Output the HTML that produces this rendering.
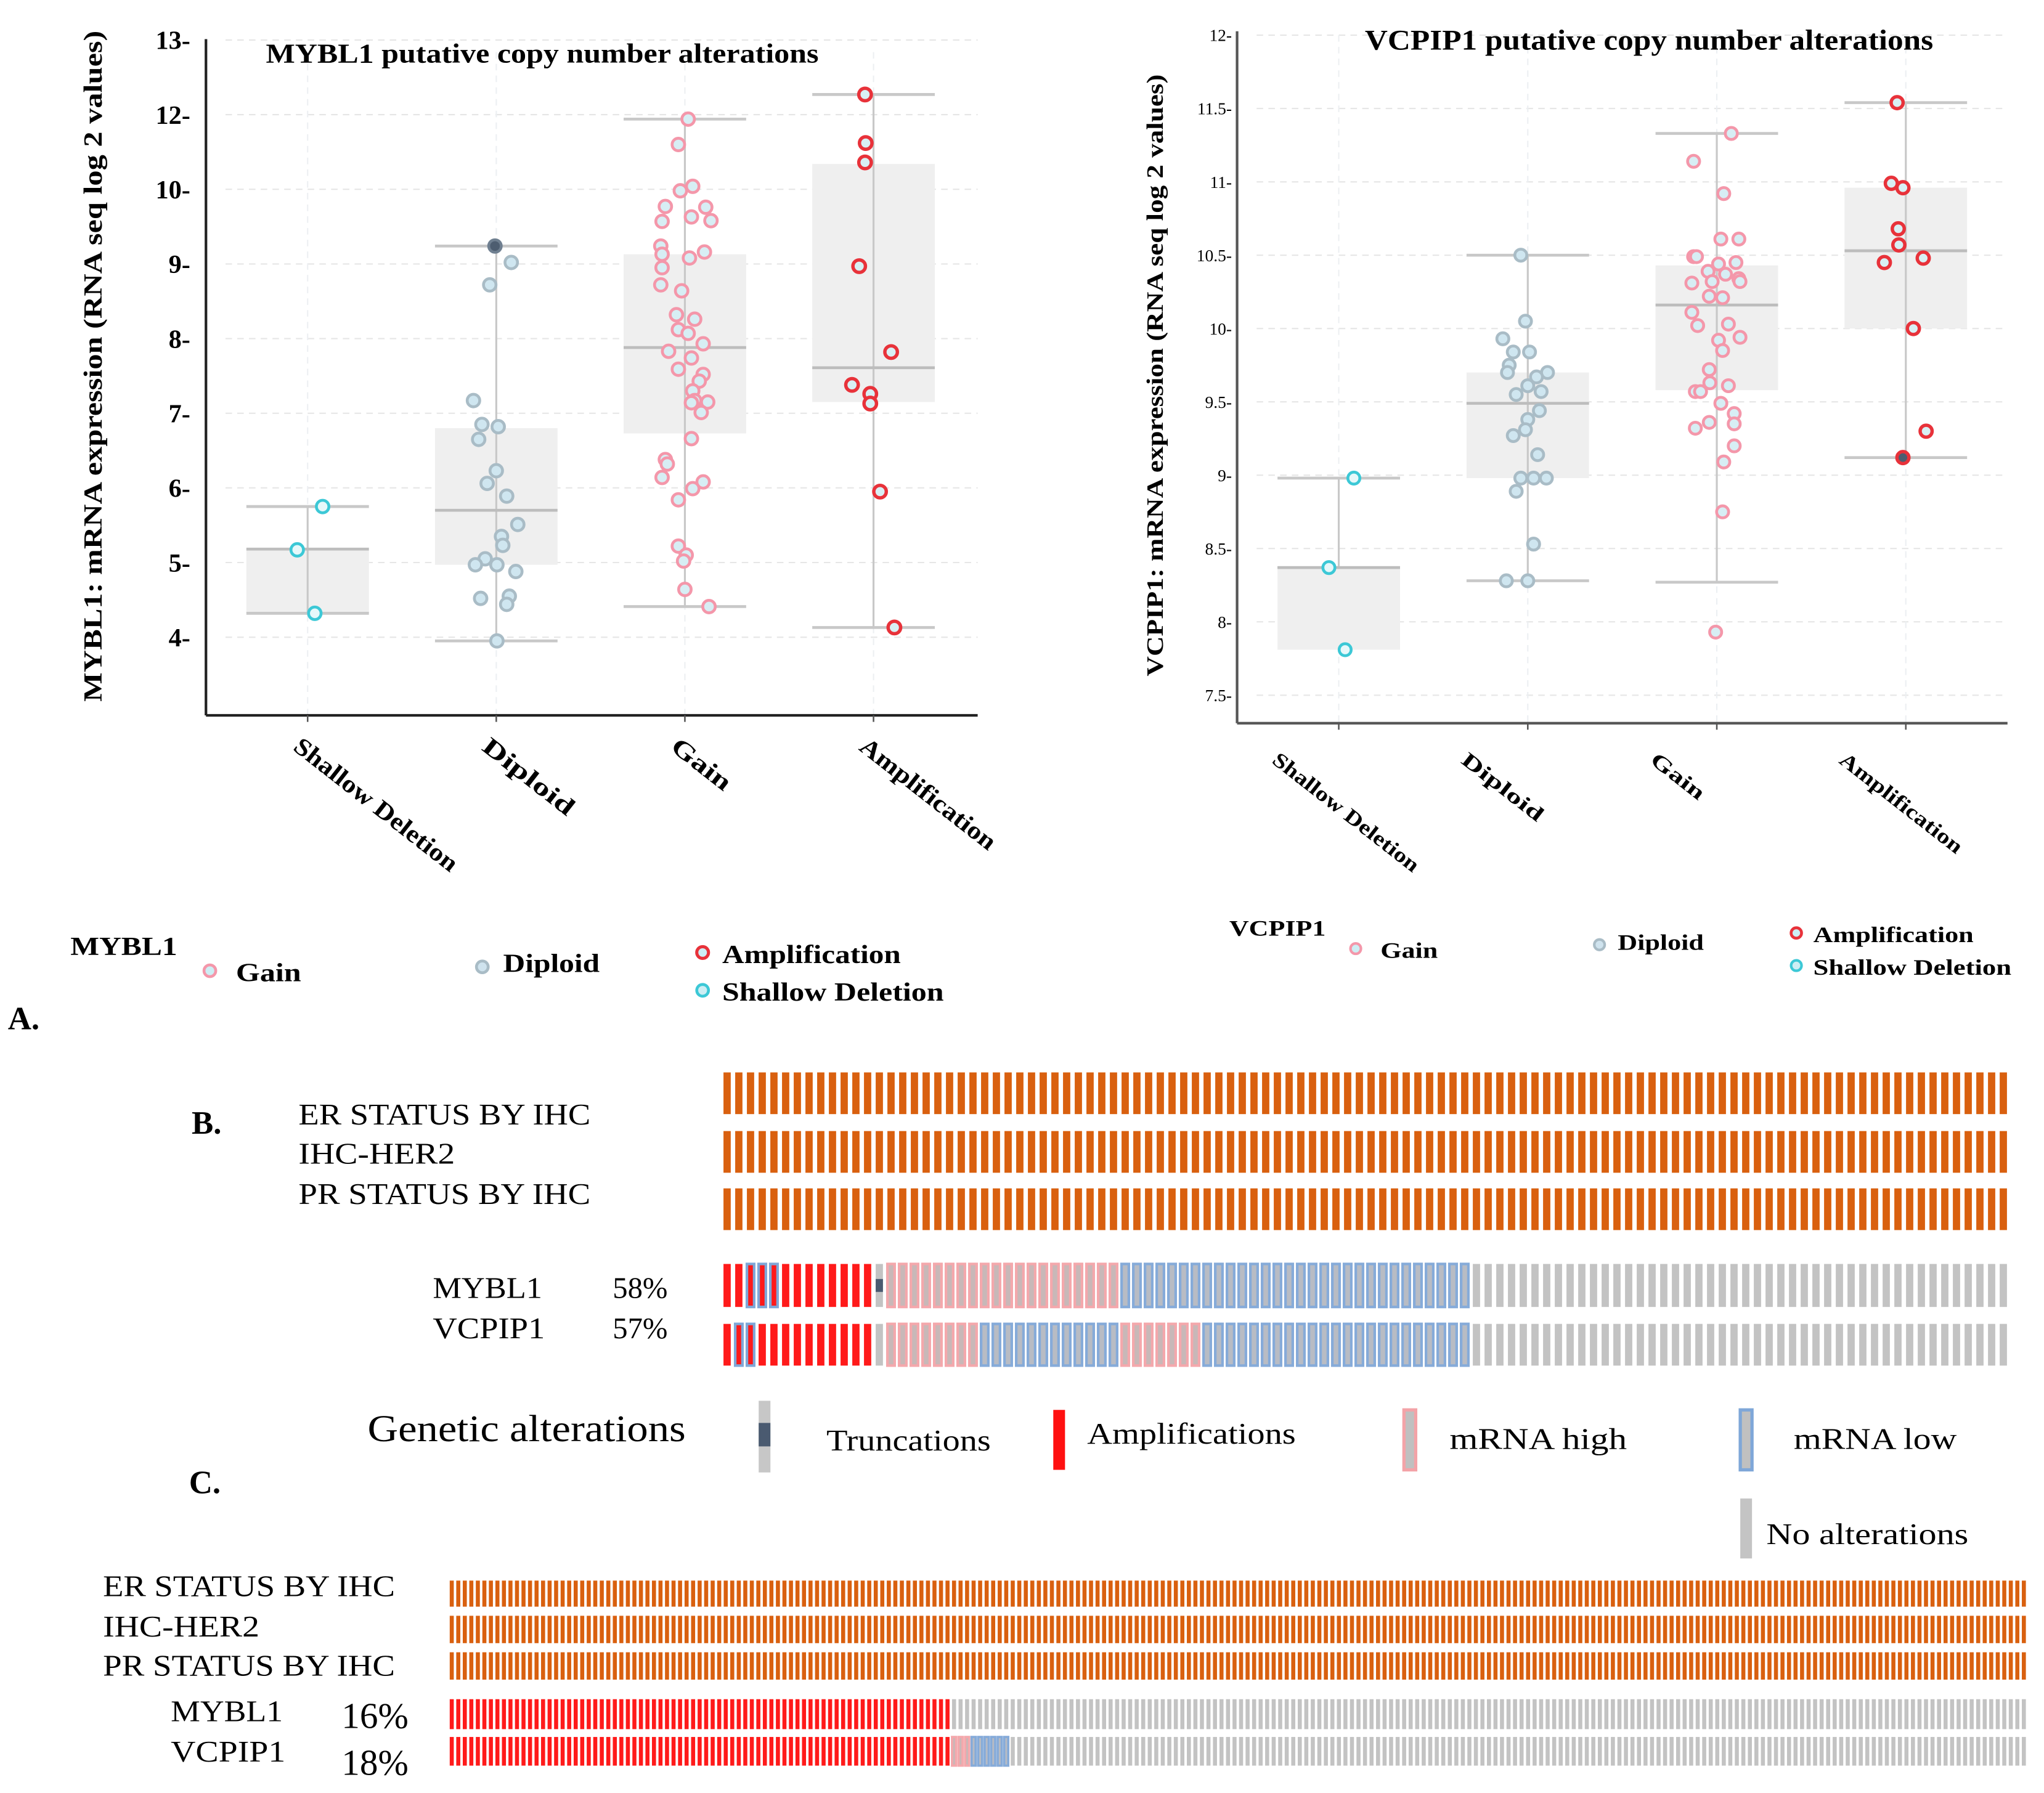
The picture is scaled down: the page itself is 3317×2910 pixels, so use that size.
<!DOCTYPE html>
<html><head><meta charset="utf-8">
<style>
html,body{margin:0;padding:0;background:#fff;}
svg{display:block;}
text{font-family:"Liberation Serif",serif;}
</style></head>
<body>
<svg id="root" width="3317" height="2910" viewBox="0 0 1568 1376" preserveAspectRatio="none" xmlns="http://www.w3.org/2000/svg">
<rect x="0" y="0" width="1568" height="1376" fill="#fff"/>
<g id="chartA1"></g>
<g id="chartA2"></g>
<g id="panelB"></g>
<g id="panelC"></g>
<g font-weight="bold">
  <text x="6" y="790" font-size="25">A.</text>
  <text x="204" y="48" font-size="21" textLength="424" lengthAdjust="spacingAndGlyphs">MYBL1 putative copy number alterations</text>
  <text x="1047" y="38" font-size="22" textLength="436" lengthAdjust="spacingAndGlyphs">VCPIP1 putative copy number alterations</text>
  <text transform="translate(78,281) rotate(-90)" text-anchor="middle" font-size="20" textLength="515" lengthAdjust="spacingAndGlyphs">MYBL1: mRNA expression  (RNA seq log 2 values)</text>
  <text transform="translate(892,288) rotate(-90)" text-anchor="middle" font-size="18" textLength="462" lengthAdjust="spacingAndGlyphs">VCPIP1: mRNA expression  (RNA seq log 2 values)</text>
</g>
<g font-weight="bold">
  <text x="54" y="733" font-size="20" textLength="82" lengthAdjust="spacingAndGlyphs">MYBL1</text>
  <circle cx="161" cy="745" r="4.5" fill="#cdeef4" stroke="#f497aa" stroke-width="2.2"/>
  <text x="181" y="753" font-size="20" textLength="50" lengthAdjust="spacingAndGlyphs">Gain</text>
  <circle cx="370" cy="742" r="4.5" fill="#cfe3ee" stroke="#a9bcc6" stroke-width="2.2"/>
  <text x="386" y="746" font-size="20" textLength="74" lengthAdjust="spacingAndGlyphs">Diploid</text>
  <circle cx="539" cy="731" r="4.5" fill="#cdeef4" stroke="#e8323a" stroke-width="2.4"/>
  <text x="554" y="739" font-size="20" textLength="137" lengthAdjust="spacingAndGlyphs">Amplification</text>
  <circle cx="539" cy="760" r="4.5" fill="#cdeef4" stroke="#3cc8d6" stroke-width="2.2"/>
  <text x="554" y="768" font-size="20" textLength="170" lengthAdjust="spacingAndGlyphs">Shallow Deletion</text>

  <text x="943" y="718" font-size="17" textLength="74" lengthAdjust="spacingAndGlyphs">VCPIP1</text>
  <circle cx="1040" cy="728" r="4" fill="#cdeef4" stroke="#f497aa" stroke-width="2"/>
  <text x="1059" y="735" font-size="17" textLength="44" lengthAdjust="spacingAndGlyphs">Gain</text>
  <circle cx="1227" cy="725" r="4" fill="#cfe3ee" stroke="#a9bcc6" stroke-width="2"/>
  <text x="1241" y="729" font-size="17" textLength="66" lengthAdjust="spacingAndGlyphs">Diploid</text>
  <circle cx="1378" cy="716" r="4" fill="#cdeef4" stroke="#e8323a" stroke-width="2.2"/>
  <text x="1391" y="723" font-size="17" textLength="123" lengthAdjust="spacingAndGlyphs">Amplification</text>
  <circle cx="1378" cy="741" r="4" fill="#cdeef4" stroke="#3cc8d6" stroke-width="2"/>
  <text x="1391" y="748" font-size="17" textLength="152" lengthAdjust="spacingAndGlyphs">Shallow Deletion</text>
</g>
<g font-size="23">
  <text x="147" y="870" font-size="25" font-weight="bold">B.</text>
  <text x="229" y="863" textLength="224" lengthAdjust="spacingAndGlyphs">ER STATUS BY IHC</text>
  <text x="229" y="893" textLength="120" lengthAdjust="spacingAndGlyphs">IHC-HER2</text>
  <text x="229" y="924" textLength="224" lengthAdjust="spacingAndGlyphs">PR STATUS BY IHC</text>
  <text x="332" y="996" textLength="84" lengthAdjust="spacingAndGlyphs">MYBL1</text>
  <text x="470" y="996">58%</text>
  <text x="332" y="1027" textLength="86" lengthAdjust="spacingAndGlyphs">VCPIP1</text>
  <text x="470" y="1027">57%</text>
  <text x="282" y="1106" font-size="29" textLength="244" lengthAdjust="spacingAndGlyphs">Genetic alterations</text>
  <rect x="582" y="1075" width="9" height="55" fill="#c7c7c7"/>
  <rect x="582" y="1092" width="9" height="18" fill="#4a5a70"/>
  <text x="634" y="1113" textLength="126" lengthAdjust="spacingAndGlyphs">Truncations</text>
  <rect x="808" y="1082" width="9" height="46" fill="#ff1010"/>
  <text x="834" y="1108" textLength="160" lengthAdjust="spacingAndGlyphs">Amplifications</text>
  <rect x="1077" y="1082" width="9" height="46" fill="#c0c0c0" stroke="#f3a3a8" stroke-width="2.5"/>
  <text x="1112" y="1112" textLength="136" lengthAdjust="spacingAndGlyphs">mRNA high</text>
  <rect x="1335" y="1082" width="9" height="46" fill="#c0c0c0" stroke="#7fa7d8" stroke-width="2.5"/>
  <text x="1376" y="1112" textLength="125" lengthAdjust="spacingAndGlyphs">mRNA low</text>
  <rect x="1335" y="1150" width="9" height="46" fill="#c4c4c4"/>
  <text x="1355" y="1185" textLength="155" lengthAdjust="spacingAndGlyphs">No alterations</text>
  <text x="145" y="1146" font-size="25" font-weight="bold">C.</text>
</g>
<g font-size="23">
  <text x="79" y="1225" textLength="224" lengthAdjust="spacingAndGlyphs">ER STATUS BY IHC</text>
  <text x="79" y="1256" textLength="120" lengthAdjust="spacingAndGlyphs">IHC-HER2</text>
  <text x="79" y="1286" textLength="224" lengthAdjust="spacingAndGlyphs">PR STATUS BY IHC</text>
  <text x="131" y="1321" textLength="86" lengthAdjust="spacingAndGlyphs">MYBL1</text>
  <text x="262" y="1326" font-size="28">16%</text>
  <text x="131" y="1352" textLength="88" lengthAdjust="spacingAndGlyphs">VCPIP1</text>
  <text x="262" y="1362" font-size="28">18%</text>
</g>
</svg>
<script>
// ---------- Chart A1 data (MYBL1), y in axis units (tick positions 4..12, labels as printed) ----------
const a1Categories = ['Shallow Deletion','Diploid','Gain','Amplification'];
const a1TickLabels = ['4-','5-','6-','7-','8-','9-','10-','12-','13-'];
const a1TickValues = [4,5,6,7,8,9,10,11,12];
const a1WhiskerHi = [5.75, 9.24, 10.94, 11.27];
const a1WhiskerLo = [4.32, 3.95, 4.41, 4.13];
const a1BoxHi = [5.18, 6.80, 9.13, 10.34];
const a1BoxLo = [4.32, 4.97, 6.73, 7.15];
const a1Median = [5.18, 5.70, 7.88, 7.61];
const a1ShallowVals = [5.75, 5.17, 4.32];
const a1ShallowJit = [23,-16,11];
const a1DiploidVals = [9.24,9.02,8.72,7.17,6.85,6.82,6.65,6.23,6.06,5.89,5.51,5.35,5.23,5.05,4.97,4.97,4.88,4.52,4.55,4.44,3.95];
const a1DiploidJit = [-2,23,-10,-35,-22,3,-27,0,-14,16,33,8,10,-17,-32,1,30,-24,20,16,1];
const a1GainVals = [10.94,10.60,10.04,9.98,9.77,9.76,9.57,9.63,9.58,9.24,9.13,9.16,9.08,8.95,8.72,8.64,8.32,8.26,8.12,8.07,7.93,7.83,7.74,7.59,7.52,7.43,7.30,7.17,7.15,7.14,7.01,6.66,6.38,6.32,6.14,6.08,5.99,5.84,5.22,5.10,5.02,4.64,4.41];
const a1GainJit = [5,-10,12,-7,-30,32,-35,10,40,-37,-35,30,7,-35,-37,-5,-13,15,-10,5,28,-25,10,-10,28,22,12,15,35,10,25,10,-30,-27,-35,28,12,-10,-10,2,-2,0,37];
const a1AmpVals = [11.27,10.62,10.36,8.97,7.82,7.38,7.26,7.13,5.95,4.13];
const a1AmpJit = [-13,-12,-13,-22,27,-33,-5,-5,10,32];

// ---------- Chart A2 data (VCPIP1) ----------
const a2Categories = ['Shallow Deletion','Diploid','Gain','Amplification'];
const a2TickLabels = ['7.5-','8-','8.5-','9-','9.5-','10-','10.5-','11-','11.5-','12-'];
const a2TickValues = [7.5,8,8.5,9,9.5,10,10.5,11,11.5,12];
const a2WhiskerHi = [8.98, 10.50, 11.33, 11.54];
const a2WhiskerLo = [8.37, 8.28, 8.27, 9.12];
const a2BoxHi = [8.37, 9.70, 10.43, 10.96];
const a2BoxLo = [7.81, 8.98, 9.58, 10.00];
const a2Median = [8.37, 9.49, 10.16, 10.53];
const a2ShallowVals = [8.98, 8.37, 7.81];
const a2ShallowJit = [26,-17,11];
const a2DiploidVals = [10.50,10.05,9.93,9.84,9.84,9.75,9.70,9.70,9.67,9.61,9.57,9.55,9.44,9.38,9.31,9.27,9.14,8.98,8.98,8.98,8.89,8.53,8.28,8.28];
const a2DiploidJit = [-12,-4,-43,-25,3,-32,-35,34,15,0,23,-20,20,0,-4,-25,17,-12,10,32,-20,10,-37,0];
const a2GainVals = [11.33,11.14,10.92,10.61,10.61,10.49,10.49,10.44,10.45,10.39,10.37,10.34,10.31,10.32,10.32,10.22,10.21,10.11,10.02,10.03,9.92,9.94,9.85,9.72,9.63,9.61,9.57,9.57,9.49,9.42,9.35,9.36,9.32,9.20,9.09,8.75,7.93];
const a2GainJit = [25,-40,12,7,38,-40,-35,3,33,-15,15,38,-43,-8,40,-13,10,-43,-33,20,3,40,10,-13,-12,20,-37,-28,7,30,30,-13,-37,30,12,10,-2];
const a2AmpVals = [11.54,10.99,10.96,10.68,10.57,10.45,10.48,10.00,9.30,9.12];
const a2AmpJit = [-15,-25,-5,-13,-12,-37,30,13,35,-5];

// ---------- Oncoprint data: segments [type, count] ----------
const bClinical = [['clin',110]];
const bMybl1 = [['amp',2],['amplow',3],['amp',8],['trunc',1],['high',20],['low',30],['none',46]];
const bVcpip1 = [['amp',1],['amplow',2],['amp',10],['none',1],['high',8],['low',12],['high',7],['low',23],['none',46]];
const cClinical = [['clin',242]];
const cMybl1 = [['amp',77],['none',165]];
const cVcpip1 = [['amp',77],['high',3],['low',6],['none',156]];

const NS='http://www.w3.org/2000/svg';
function mk(parent, tag, attrs){
  const e=document.createElementNS(NS,tag);
  for(const k in attrs) e.setAttribute(k, attrs[k]);
  parent.appendChild(e); return e;
}

function drawBox(g, cfg){
  const y = v => cfg.y0 + (v - cfg.vmin) * (cfg.y1 - cfg.y0) / (cfg.vmax - cfg.vmin);
  const x = i => cfg.x0 + i * cfg.dx;
  cfg.tickValues.forEach((v,i)=>{
    const gl=mk(g,'line',{x1:cfg.axisX+15,x2:cfg.xEnd,y1:y(v),y2:y(v),stroke:'#e6e6e6','stroke-width':1,'stroke-dasharray':'5,4'});
    
    
    const t=mk(g,'text',{x:cfg.tickX,y:y(v)+cfg.tickFs*0.35,'text-anchor':'end','font-size':cfg.tickFs,'font-weight':cfg.tickWeight,'font-family':cfg.tickFont});
    t.textContent=cfg.tickLabels[i];
    
    
  });
  cfg.cats.forEach((c,i)=>{
    const vl=mk(g,'line',{x1:x(i),x2:x(i),y1:cfg.yTopGrid,y2:cfg.axisY,stroke:'#eceff2','stroke-width':1,'stroke-dasharray':'5,4'});
    
    
  });
  const ya=mk(g,'line',{x1:cfg.axisX,x2:cfg.axisX,y1:cfg.axisTop,y2:cfg.axisY,stroke:cfg.axisColor,'stroke-width':2});
  
  
  const xa=mk(g,'line',{x1:cfg.axisX,x2:cfg.xEnd,y1:cfg.axisY,y2:cfg.axisY,stroke:cfg.axisColor,'stroke-width':2});
  
  
  const hw=cfg.halfW;
  cfg.cats.forEach((c,i)=>{
    const cx=x(i);
    const tk=mk(g,'line',{x1:cx,x2:cx,y1:cfg.axisY,y2:cfg.axisY+5,stroke:'#555','stroke-width':1.2});
    
    
    const box=mk(g,'rect',{x:cx-hw,y:y(cfg.boxHi[i]),width:2*hw,height:y(cfg.boxLo[i])-y(cfg.boxHi[i]),fill:'#efefef'});
    
    
    const wl=mk(g,'line',{x1:cx,x2:cx,y1:y(cfg.wHi[i]),y2:y(cfg.wLo[i]),stroke:'#c8c8c8','stroke-width':1.5});
    
    
    [cfg.wHi[i],cfg.wLo[i]].forEach(v=>{
      const cap=mk(g,'line',{x1:cx-hw,x2:cx+hw,y1:y(v),y2:y(v),stroke:'#c8c8c8','stroke-width':2.2});
      
      
    });
    const md=mk(g,'line',{x1:cx-hw,x2:cx+hw,y1:y(cfg.med[i]),y2:y(cfg.med[i]),stroke:'#bdbdbd','stroke-width':2.2});
    
    
    const lb=mk(g,'text',{transform:`translate(${cx+cfg.catDx},${cfg.axisY+cfg.catDy}) rotate(${cfg.rot})`,'font-size':cfg.catFs,'font-weight':'bold','font-family':'"Liberation Serif",serif',textLength:cfg.catLen[i],lengthAdjust:'spacingAndGlyphs'});
    lb.textContent=c;
    
    
  });
  const styles=[
    {stroke:'#3cc8d6',fill:'#e6f8fa'},
    {stroke:'#a9bcc6',fill:'#cfe6f0'},
    {stroke:'#f497aa',fill:'#d7eef4'},
    {stroke:'#e8323a',fill:'#d8f0f4'}];
  cfg.series.forEach((s,i)=>{
    s.vals.forEach((v,j)=>{
      const dark = (s.darkIdx===j);
      const p=mk(g,'circle',{cx:x(i)+s.jit[j]*cfg.jitScale,cy:y(v),r:cfg.r,fill:dark?'#4d5d70':styles[i].fill,stroke:dark?(i==3?'#e8323a':'#6f7f90'):styles[i].stroke,'stroke-width':i==3?2.6:2.2});
      
      
    });
  });
}

drawBox(document.getElementById('chartA1'),{
  cats:a1Categories, tickLabels:a1TickLabels, tickValues:a1TickValues,
  vmin:4, vmax:12, y0:489, y1:30.7, x0:236, dx:144.7, halfW:47,
  axisX:158, axisTop:30, axisY:549, xEnd:750, yTopGrid:40, tickX:146, tickFs:20, tickWeight:'bold', tickFont:'"Liberation Serif",serif',
  axisColor:'#222', rot:38, catFs:19, catDx:-12, catDy:26, catLen:[154,84,53,127], r:4.8, jitScale:0.5,
  wHi:a1WhiskerHi, wLo:a1WhiskerLo, boxHi:a1BoxHi, boxLo:a1BoxLo, med:a1Median,
  series:[{vals:a1ShallowVals,jit:a1ShallowJit},{vals:a1DiploidVals,jit:a1DiploidJit,darkIdx:0},{vals:a1GainVals,jit:a1GainJit},{vals:a1AmpVals,jit:a1AmpJit}]
});
drawBox(document.getElementById('chartA2'),{
  cats:a2Categories, tickLabels:a2TickLabels, tickValues:a2TickValues,
  vmin:7.5, vmax:12, y0:533.5, y1:27, x0:1027, dx:145, halfW:47,
  axisX:949, axisTop:24, axisY:555, xEnd:1540, yTopGrid:27, tickX:945, tickFs:13, tickWeight:'normal', tickFont:'"Liberation Sans",sans-serif',
  axisColor:'#555', rot:38, catFs:16, catDx:-52, catDy:30, catLen:[138,75,48,115], r:4.6, jitScale:0.445,
  wHi:a2WhiskerHi, wLo:a2WhiskerLo, boxHi:a2BoxHi, boxLo:a2BoxLo, med:a2Median,
  series:[{vals:a2ShallowVals,jit:a2ShallowJit},{vals:a2DiploidVals,jit:a2DiploidJit},{vals:a2GainVals,jit:a2GainJit},{vals:a2AmpVals,jit:a2AmpJit,darkIdx:9}]
});

function drawRow(g, segs, x0, x1, yTop, h, name){
  const total=segs.reduce((a,s)=>a+s[1],0);
  const pitch=(x1-x0)/total;
  const w=pitch*0.62;
  let k=0;
  segs.forEach(s=>{
    for(let j=0;j<s[1];j++,k++){
      const cx=x0+k*pitch;
      const t=s[0];
      let fill='#c3c3c3', stroke='none';
      if(t==='clin') fill='#d9600f';
      else if(t==='amp') fill='#ff1a1a';
      else if(t==='amplow'){fill='#ff1a1a'; stroke='#7fa7d8';}
      else if(t==='high'){fill='#c8b8b8'; stroke='#f4a8ac';}
      else if(t==='low'){fill='#b8bcc4'; stroke='#86abd9';}
      const r=mk(g,'rect',{x:cx,y:yTop,width:w,height:h,fill:fill});
      if(stroke!=='none'){r.setAttribute('stroke',stroke);r.setAttribute('stroke-width',Math.min(2,pitch*0.35));}
      
      
      if(t==='trunc'){
        const c=mk(g,'rect',{x:cx,y:yTop+h*0.35,width:w,height:h*0.3,fill:'#4a5a70'});
        
        
      }
    }
  });
}
const gB=document.getElementById('panelB');
drawRow(gB,bClinical,555,1543,823,32,'b-er');
drawRow(gB,bClinical,555,1543,868,32,'b-her2');
drawRow(gB,bClinical,555,1543,912,32,'b-pr');
drawRow(gB,bMybl1,555,1543,970,33,'b-mybl1');
drawRow(gB,bVcpip1,555,1543,1016,32,'b-vcpip1');
const gC=document.getElementById('panelC');
drawRow(gC,cClinical,345,1556,1213,20,'c-er');
drawRow(gC,cClinical,345,1556,1240,21,'c-her2');
drawRow(gC,cClinical,345,1556,1268,21,'c-pr');
drawRow(gC,cMybl1,345,1556,1304,23,'c-mybl1');
drawRow(gC,cVcpip1,345,1556,1333,22,'c-vcpip1');
</script>
</body></html>
